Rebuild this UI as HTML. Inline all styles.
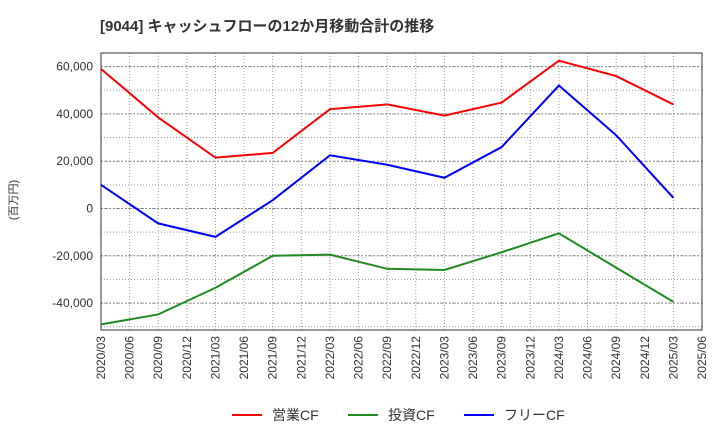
<!DOCTYPE html>
<html><head><meta charset="utf-8"><style>
body{margin:0;background:#fff;font-family:"Liberation Sans","Noto Sans CJK JP",sans-serif}
</style></head><body>
<svg id="chart" width="720" height="440" xmlns="http://www.w3.org/2000/svg"></svg>
<script>
const xLabels=["2020/03","2020/06","2020/09","2020/12","2021/03","2021/06","2021/09","2021/12","2022/03","2022/06","2022/09","2022/12","2023/03","2023/06","2023/09","2023/12","2024/03","2024/06","2024/09","2024/12","2025/03","2025/06"];
const pointIdx=[0,2,4,6,8,10,12,14,16,18,20];
const operating=[59000,38500,21500,23500,42000,44000,39300,44800,62500,56000,44000];
const investing=[-49000,-44800,-33500,-20000,-19500,-25500,-26000,-18500,-10500,-25000,-39500];
const free=[10000,-6300,-12000,3500,22500,18500,13000,26000,52000,31000,4500];
const yTicks=[-40000,-20000,0,20000,40000,60000];
const NS="http://www.w3.org/2000/svg";
const svg=document.getElementById('chart');
const L=101,R=702,T=53,B=330;
const xs=i=>L+(R-L)*i/(xLabels.length-1);
const ys=v=>208.5-v*(47.3/20000);
function el(t,a,p){const e=document.createElementNS(NS,t);for(const k in a)e.setAttribute(k,a[k]);(p||svg).appendChild(e);return e;}
const title=el('text',{x:100,y:31,'font-size':15,'font-weight':'bold',fill:'#333'});

title.textContent='[9044]  キャッシュフローの12か月移動合計の推移';
const grid=el('g',{});
xLabels.forEach((l,i)=>{const x=xs(i);el('line',{x1:x,x2:x,y1:T,y2:B,stroke:'#999','stroke-dasharray':'1,2'},grid);
 const t=el('text',{transform:`translate(${x+4},${B+6}) rotate(-90)`,'text-anchor':'end','font-size':12,fill:'#333'});
 t.textContent=l;});
for(let v=-50000;v<=65000;v+=10000){const y=ys(v);if(y<T||y>B)continue;el('line',{x1:L,x2:R,y1:y,y2:y,stroke:'#999','stroke-dasharray':'1,2'},grid);}
yTicks.forEach(v=>{const y=ys(v);el('line',{x1:L,x2:R,y1:y,y2:y,stroke:'#888','stroke-dasharray':'2,2'},grid);
 const t=el('text',{x:L-8,y:y+4,'text-anchor':'end','font-size':12,fill:'#333'});
 t.textContent=v.toLocaleString('en-US');});
const fr=el('rect',{x:L,y:T,width:R-L,height:B-T,fill:'none',stroke:'#333'});
const yt=el('text',{transform:'translate(17,200) rotate(-90)','text-anchor':'middle','font-size':11,fill:'#333'});
yt.textContent='(百万円)';
function series(d,c,n){const p=el('polyline',{points:d.map((v,i)=>xs(pointIdx[i])+','+ys(v)).join(' '),fill:'none',stroke:c,'stroke-width':2});
 }
series(operating,'#ff0000','operating-cf-line');series(investing,'#228b22','investing-cf-line');series(free,'#0000ff','free-cf-line');
[['営業CF','#ff0000',232],['投資CF','#228b22',348],['フリーCF','#0000ff',464]].forEach(([n,c,x])=>{
 const g=el('g',{});
 el('line',{x1:x,x2:x+30,y1:415,y2:415,stroke:c,'stroke-width':2},g);
 const t=el('text',{x:x+40,y:420,'font-size':14,fill:'#333'},g);t.textContent=n;});
</script></body></html>
